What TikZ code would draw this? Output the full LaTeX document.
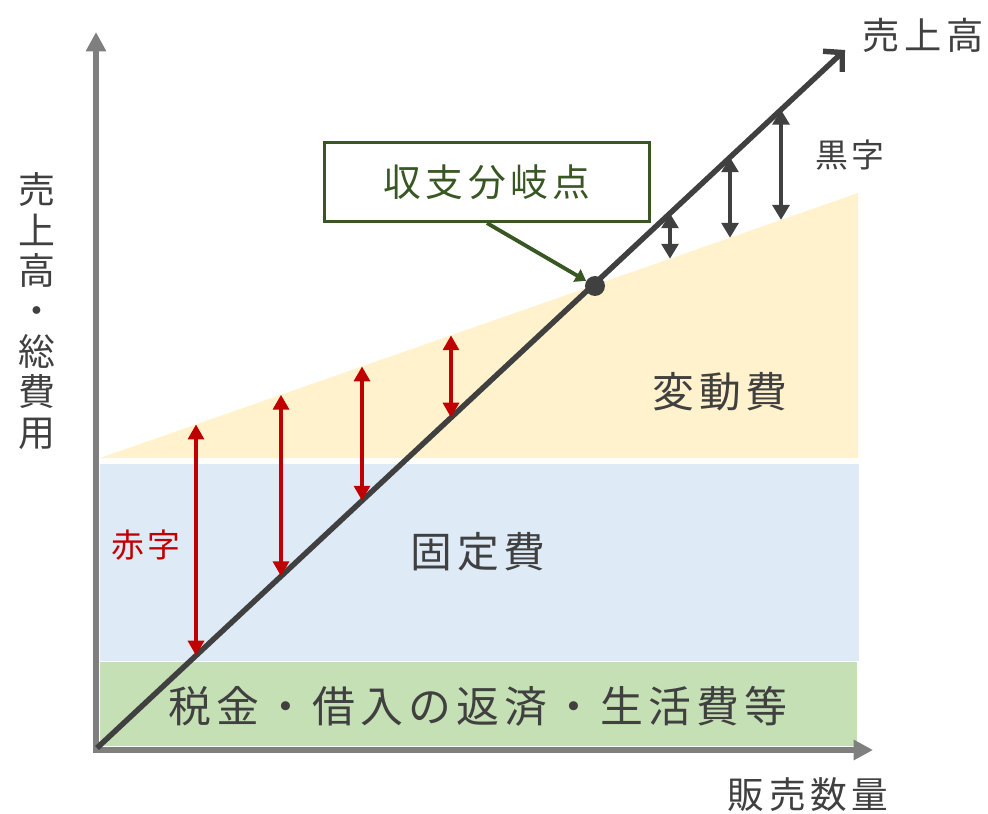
\documentclass[tikz,border=0pt]{standalone}
\usepackage{fontspec}
\setmainfont{Noto Sans CJK JP}[LetterSpace=12]
\usepackage{xcolor}
\definecolor{bepgray}{RGB}{64,64,64}
\definecolor{bepaxis}{RGB}{127,127,127}
\definecolor{bepred}{RGB}{192,0,0}
\definecolor{bepgreen}{RGB}{56,87,35}
\definecolor{bepfixed}{RGB}{222,235,247}
\definecolor{bepvar}{RGB}{255,242,204}
\definecolor{beptax}{RGB}{197,224,180}
\usepackage{tikz}
\usetikzlibrary{arrows.meta,positioning}

\tikzset{
  axisline/.style={draw=bepaxis,line width=3pt,-{Triangle[length=11pt,width=11pt]}},
  salesline/.style={draw=bepgray,line width=3.1pt,-{Straight Barb[length=7.5pt,width=16pt]}},
  redgap/.style={draw=bepred,line width=2.5pt,{Triangle[length=8.5pt,width=9pt]}-{Triangle[length=8.5pt,width=9pt]}},
  blackgap/.style={draw=bepgray,line width=2.6pt,{Triangle[length=8.5pt,width=9.5pt]}-{Triangle[length=8.5pt,width=9.5pt]}},
  lbl/.style={text=bepgray,inner sep=0pt},
}

\begin{document}
\begin{tikzpicture}[x=0.02cm,y=-0.02cm]
\useasboundingbox (0,0) rectangle (988,814);

% cost bands
\fill[beptax] (100,662) rectangle (857,746);
\fill[bepfixed] (100,464) rectangle (859,661);
\fill[bepvar] (100,458) -- (858,193) -- (858,458) -- cycle;

% axes
\coordinate (O) at (96,750);
\coordinate (ytop) at (96,32);
\coordinate (xend) at (873,750);
\draw[axisline] ([yshift=-1.5pt]O) -- (ytop);
\draw[axisline] ([xshift=-1.5pt]O) -- (xend);

% sales line
\coordinate (s0) at (97,748);
\coordinate (s1) at (845,50);
\draw[salesline] (s0) -- (s1);

% loss / profit gaps
\foreach \x in {196,281,362,451} {
  \pgfmathsetmacro\ys{748-0.9332*(\x-97)}
  \pgfmathsetmacro\yv{458-0.3496*(\x-100)}
  \coordinate (r\x s) at (\x,\ys);
  \coordinate (r\x v) at (\x,\yv);
  \draw[redgap] (r\x v) -- (r\x s);
}
\foreach \x in {670,730,781} {
  \pgfmathsetmacro\ys{748-0.9332*(\x-97)}
  \pgfmathsetmacro\yv{458-0.3496*(\x-100)}
  \coordinate (b\x s) at (\x,\ys);
  \coordinate (b\x v) at (\x,\yv);
  \draw[blackgap] (b\x s) -- (b\x v);
}

% break-even point
\node[circle,fill=bepgray,minimum size=0.4cm,inner sep=0pt] (bep) at (595,286) {};
\node[draw=bepgreen,line width=1.8pt,fill=white,minimum width=6.5cm,minimum height=1.58cm,
      text=bepgreen,font=\fontsize{21.5}{24}\selectfont] (bepbox) at (487,182) {収支分岐点};
\draw[bepgreen,line width=2.2pt,-{Triangle[length=6pt,width=8pt]}] (bepbox.south) -- (bep);

% labels
\node[lbl,font=\fontsize{21.2}{24}\selectfont] (saleslbl) at (923,35) {売上高};
\node[lbl,font=\fontsize{20.9}{24}\selectfont] (qtylbl) at (808,795) {販売数量};
\node[lbl,font=\fontsize{18.7}{22}\selectfont] (profit) at (850,155) {黒字};
\node[lbl,text=bepred,font=\fontsize{18.7}{22}\selectfont] (loss) at (146,545) {赤字};
\node[lbl,font=\fontsize{23.8}{27}\selectfont] (varcost) at (720,392) {変動費};
\node[lbl,font=\fontsize{23.8}{27}\selectfont] (fixcost) at (478,552) {固定費};
\node[lbl,font=\fontsize{24.4}{28}\selectfont] (taxcost) at (478,706) {税金・借入の返済・生活費等};
\node[lbl,align=center,font=\fontsize{21}{23}\selectfont] (ylbl) at (37,311) {売\\上\\高\\・\\総\\費\\用};
\end{tikzpicture}
\end{document}
